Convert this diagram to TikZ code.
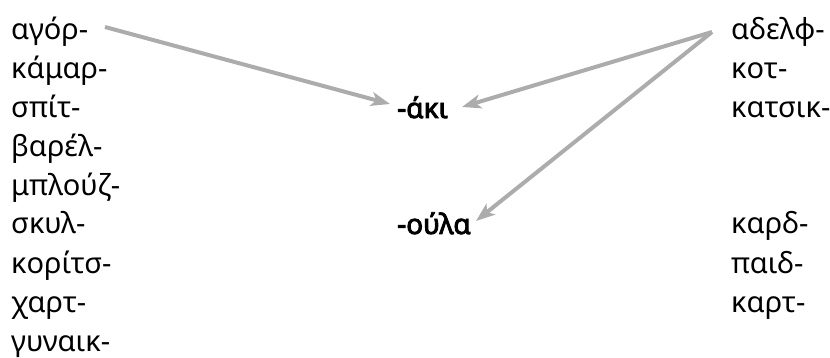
\documentclass[tikz,border=0pt]{standalone}
\usepackage{fontspec}
\setmainfont{Noto Sans}
\newfontfamily\sufont{Noto Sans}[FakeBold=3]
\usetikzlibrary{arrows.meta}
\definecolor{arrowgray}{RGB}{172,172,172}
\tikzset{
  word/.style={anchor=base west, inner sep=0pt, font=\fontsize{29}{29}\selectfont},
  suffix/.style={anchor=base west, inner sep=0pt, font=\fontsize{28}{28}\sufont},
  link/.style={draw=arrowgray, line width=4pt, -{Stealth[length=19pt,width=14pt,inset=5pt]}}
}
\begin{document}
\begin{tikzpicture}[x=1pt,y=-1pt]
\useasboundingbox (0,0) rectangle (830,358);
% left column
\node[word] (l1) at (11,40) {αγόρ-};
\node[word] (l2) at (11,79) {κάμαρ-};
\node[word] (l3) at (11,118) {σπίτ-};
\node[word] (l4) at (11,157) {βαρέλ-};
\node[word] (l5) at (11,196) {μπλούζ-};
\node[word] (l6) at (11,234) {σκυλ-};
\node[word] (l7) at (11,273) {κορίτσ-};
\node[word] (l8) at (11,312) {χαρτ-};
\node[word] (l9) at (11,351) {γυναικ-};
% right column
\node[word] (r1) at (731,40) {αδελφ-};
\node[word] (r2) at (731,79) {κοτ-};
\node[word] (r3) at (731,118) {κατσικ-};
\node[word] (r4) at (731,234) {καρδ-};
\node[word] (r5) at (731,273) {παιδ-};
\node[word] (r6) at (731,312) {καρτ-};
% suffixes
\node[suffix] (aki) at (397,118) {-άκι};
\node[suffix] (oula) at (397,234) {-ούλα};
% arrow ends
\coordinate (s1) at (105,27);
\coordinate (s2) at (712,32);
\coordinate (t1) at (390,104);
\coordinate (t2) at (462,107);
\coordinate (t3) at (476,221);
\draw[link] (s1) -- (t1);
\draw[link] (s2) -- (t2);
\draw[link] (s2) -- (t3);
\end{tikzpicture}
\end{document}
